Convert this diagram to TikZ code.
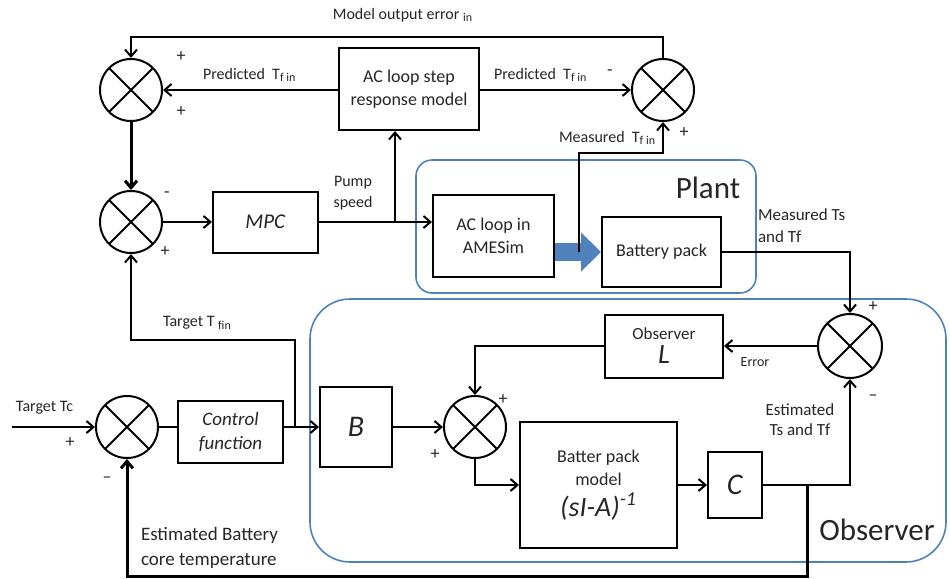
\documentclass[tikz,border=0pt]{standalone}
\usepackage{fontspec}
\setmainfont{Carlito}
\usepackage{xcolor}
\usetikzlibrary{arrows.meta}

\definecolor{plantblue}{RGB}{79,129,189}

\begin{document}
\begin{tikzpicture}[
    x=0.5pt, y=-0.5pt,
    >={Straight Barb[length=3.5pt, width=6pt]},
    line width=1pt,
    every node/.style={text=black!85},
    box/.style={
        rectangle, draw, line width=1pt,
        align=center, inner sep=2pt,
        font=\fontsize{9}{11.5}\selectfont
    },
    sumjn/.style={
        circle, draw, minimum size=31pt, inner sep=0pt,
        path picture={
            \draw (path picture bounding box.north west) -- (path picture bounding box.south east)
                  (path picture bounding box.north east) -- (path picture bounding box.south west);
        }
    },
    frame/.style={draw=plantblue, line width=0.8pt},
    sign/.style={font=\fontsize{9}{9}\selectfont, inner sep=0pt},
    lbl/.style={font=\fontsize{8}{10.5}\selectfont, inner sep=1pt},
    title/.style={font=\fontsize{15.5}{16}\selectfont, inner sep=0pt}
]
    \useasboundingbox (0,0) rectangle (950,579);

    % Plant and observer frames
    \node [frame, rounded corners=8pt, minimum width=170pt, minimum height=66.5pt] (plant) at (586,226.5) {};
    \node [frame, rounded corners=20pt, minimum width=318pt, minimum height=131.5pt] (observer) at (628,430.5) {};
    \node [title] (plantlbl) at (708,188) {Plant};
    \node [title] (obslbl) at (877,530) {Observer};

    % Summing junctions
    \node [sumjn] (s1) at (131,90) {};
    \node [sumjn] (s2) at (131,222) {};
    \node [sumjn] (s3) at (127,427) {};
    \node [sumjn] (s4) at (663,90) {};
    \node [sumjn] (s5) at (475,427) {};
    \node [sumjn, minimum size=32pt] (s6) at (850,346) {};

    % Blocks
    \node [box, minimum width=70pt, minimum height=41pt] (acstep) at (409,89) {AC loop step\\response model};
    \node [box, minimum width=52.5pt, minimum height=30.5pt, font=\fontsize{10.5}{12}\selectfont] (mpc) at (265.5,222) {\textit{MPC}};
    \node [box, minimum width=60.5pt, minimum height=41pt] (acames) at (493.5,236) {AC loop in\\AMESim};
    \node [box, minimum width=59.5pt, minimum height=35pt] (battery) at (661.5,252) {Battery pack};
    \node [box, minimum width=52.5pt, minimum height=31pt, font=\fontsize{9.5}{12}\selectfont] (ctrl) at (230.5,432) {\textit{Control}\\\textit{function}};
    \node [box, minimum width=36pt, minimum height=40pt, font=\fontsize{15}{16}\selectfont] (bbox) at (356,427) {\textit{B}};
    \node [box, minimum width=59pt, minimum height=31.5pt, font=\fontsize{8.5}{11}\selectfont] (obsL) at (664,346) {Observer\\[1pt]{\fontsize{14}{14}\selectfont\textit{L}}};
    \node [box, minimum width=78.5pt, minimum height=63pt] (model) at (598.5,485) {Batter pack\\model\\[3pt]{\fontsize{14}{14}\selectfont\textit{(sI-A)\textsuperscript{-1}}}};
    \node [box, minimum width=27pt, minimum height=33pt, font=\fontsize{15}{16}\selectfont] (cbox) at (735,485) {\textit{C}};

    % Labels
    \node [lbl] (errlbl) at (403,15) {Model output error \textsubscript{in}};
    \node [lbl, anchor=west] (predl) at (200,75) {Predicted\ \ T\textsubscript{f in}};
    \node [lbl, anchor=west] (predr) at (491,75) {Predicted\ \ T\textsubscript{f in}};
    \node [lbl, anchor=west] (measfin) at (556,138) {Measured\ \ T\textsubscript{f in}};
    \node [lbl, align=center] (pump) at (353,193) {Pump\\speed};
    \node [lbl, anchor=west, align=left, font=\fontsize{8.5}{11}\selectfont] (measts) at (755,226) {Measured Ts\\and Tf};
    \node [lbl, anchor=west] (tfin) at (160,323) {Target T \textsubscript{fin}};
    \node [lbl, anchor=west] (tc) at (13,408) {Target Tc};
    \node [lbl, anchor=west, align=left, font=\fontsize{9.5}{12.5}\selectfont] (estcore) at (138,548) {Estimated Battery\\core temperature};
    \node [lbl, font=\fontsize{7}{8}\selectfont] (errtxt) at (755,362) {Error};
    \node [lbl, align=center, font=\fontsize{8.5}{10}\selectfont] (estts) at (800,420) {Estimated\\Ts and Tf};

    % Signs
    \node [sign] (p1a) at (181,57) {+};
    \node [sign] (p1b) at (181,112) {+};
    \node [sign] (m4) at (610,73) {-};
    \node [sign] (p4) at (684,133) {+};
    \node [sign] (m2) at (167,195) {-};
    \node [sign] (p2) at (165,252) {+};
    \node [sign] (p3) at (70,443) {+};
    \node [sign] (m3) at (107,480) {--};
    \node [sign] (p5a) at (435,455) {+};
    \node [sign] (p5b) at (503,400) {+};
    \node [sign] (p6) at (873,307) {+};
    \node [sign] (m6) at (873,398) {--};

    % Junction points
    \coordinate (topline) at (400,37);
    \coordinate (pumpj) at (395,222);
    \coordinate (measj) at (579,252);
    \coordinate (measbend) at (579,153);
    \coordinate (tcin) at (12,427);
    \coordinate (tfinj) at (295,427);
    \coordinate (tfinbend) at (295,340);
    \coordinate (estj) at (807,485);
    \coordinate (estbot) at (807,576);

    % Arrows
    \draw [plantblue, line width=9pt, -{Triangle[length=10pt, width=19pt]}] (acames.east |- battery.west) -- (battery.west);
    \draw [->] (s4.north) |- (topline) -| (s1.north);
    \draw [->] (acstep.west |- s1.east) -- (s1.east);
    \draw [->] (acstep.east |- s4.west) -- (s4.west);
    \draw [->, line width=1.5pt] (s1.south) -- (s2.north);
    \draw [->] (s2.east) -- (mpc.west);
    \draw [->] (mpc.east) -- (mpc.east -| acames.west);
    \draw [->] (pumpj) -- (pumpj |- acstep.south);
    \draw [->] (measj) -- (measbend) -| (s4.south);
    \draw [->] (battery.east) -| (s6.north);
    \draw [->] (s6.west) -- (obsL.east);
    \draw [->] (obsL.west) -| (s5.north);
    \draw [->] (s5.south) |- (model.west);
    \draw [->] (model.east) -- (cbox.west);
    \draw [->] (cbox.east) -| (s6.south);
    \draw [->, line width=1.5pt] (estj) -- (estbot) -| (s3.south);
    \draw [->] (tcin) -- (s3.west);
    \draw (s3.east) -- (ctrl.west |- s3.east);
    \draw [->] (ctrl.east |- bbox.west) -- (bbox.west);
    \draw [->] (tfinj) -- (tfinbend) -| (s2.south);
    \draw [->] (bbox.east) -- (s5.west);

\end{tikzpicture}
\end{document}
